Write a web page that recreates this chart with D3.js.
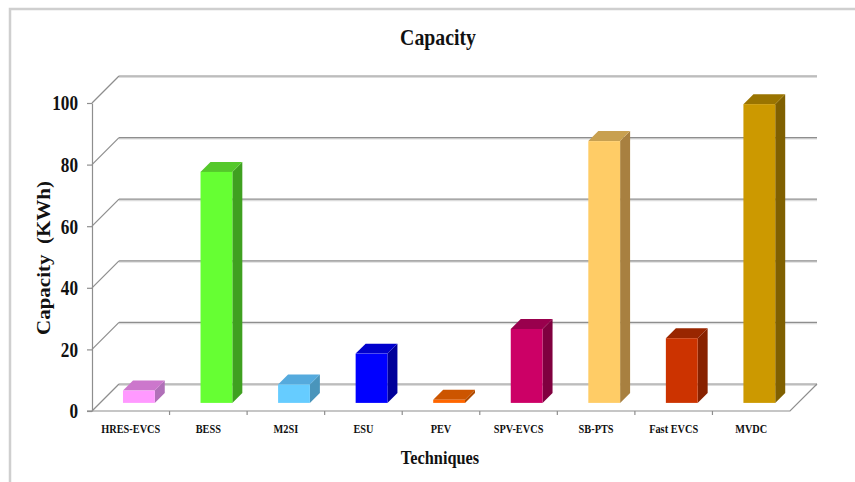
<!DOCTYPE html>
<html>
<head>
<meta charset="utf-8">
<script src="https://cdn.jsdelivr.net/npm/d3@7/dist/d3.min.js"></script>
<style>
  html, body { margin: 0; padding: 0; background: #fff; }
  svg { display: block; }
  text { font-family: "Liberation Serif", "Times New Roman", serif; font-weight: bold; fill: #111; }
</style>
</head>
<body>
<svg id="chart" width="855" height="482"></svg>
<script>
// Capacity of each technique (kWh)
const categories = ["HRES-EVCS", "BESS", "M2SI", "ESU", "PEV", "SPV-EVCS", "SB-PTS", "Fast EVCS", "MVDC"];
const capacity = [4, 75, 6, 16, 1, 24, 85, 21, 97];
const yTicks = [0, 20, 40, 60, 80, 100];

// Face colours per bar: front, top, side
const frontColors = ["#ff99ff", "#66ff33", "#66ccff", "#0000ff", "#ff6600", "#cc0066", "#ffcc66", "#cc3300", "#cc9900"];
const topColors   = ["#cc77cc", "#55c82b", "#55aadd", "#0000cc", "#cc5500", "#99004d", "#c8a050", "#992600", "#9a7400"];
const sideColors  = ["#b070b8", "#3fa020", "#4a95bb", "#00009a", "#b04a00", "#80003f", "#a88040", "#882200", "#806000"];

const svg = d3.select("#chart");
const SQ = 0.86; // horizontal condensing of the serif labels

// Front plane of the 3D box
const x = d3.scaleBand().domain(categories).range([92, 790]).paddingInner(0).paddingOuter(0);
const y = d3.scaleLinear().domain([0, 100]).range([411, 103]);
const DX = 27, DY = 27;              // depth offset of the back wall
const proj = (px, v, z) => [px + DX * z, y(v) - DY * z];

// Outer frame (left and top edges)
svg.append("path")
  .attr("d", "M10,482 L10,9 L855,9")
  .attr("fill", "none").attr("stroke", "#cfcfcf").attr("stroke-width", 2.5);

const grid = svg.append("g");
const [x0, x1] = x.range();

// Back wall gridlines and side-wall diagonals
yTicks.forEach(v => {
  const b0 = proj(x0, v, 1), b1 = proj(x1, v, 1), f0 = proj(x0, v, 0);
  grid.append("line")
    .attr("x1", b0[0]).attr("y1", b0[1] + 1.2).attr("x2", b1[0]).attr("y2", b1[1] + 1.2)
    .attr("stroke", "#dcdcdc").attr("stroke-width", 1.5);
  grid.append("line")
    .attr("x1", b0[0]).attr("y1", b0[1]).attr("x2", b1[0]).attr("y2", b1[1])
    .attr("stroke", "#8e8e8e").attr("stroke-width", 1.2);
  grid.append("line")
    .attr("x1", f0[0]).attr("y1", f0[1]).attr("x2", b0[0]).attr("y2", b0[1])
    .attr("stroke", "#8e8e8e").attr("stroke-width", 1.2);
});

// Floor: front edge and right diagonal
{
  const f0 = proj(x0, 0, 0), f1 = proj(x1, 0, 0), b1 = proj(x1, 0, 1);
  grid.append("path")
    .attr("d", `M${f0[0]},${f0[1]} L${f1[0]},${f1[1]} L${b1[0]},${b1[1]}`)
    .attr("fill", "none").attr("stroke", "#8e8e8e").attr("stroke-width", 1.2);
}

// Y axis on the front plane
const yAxis = svg.append("g")
  .attr("transform", `translate(${x0},0)`)
  .call(d3.axisLeft(y).tickValues(yTicks).tickSize(5).tickPadding(0).tickSizeOuter(0));
yAxis.select(".domain").attr("stroke", "#8e8e8e").attr("stroke-width", 1.2);
yAxis.selectAll(".tick line").attr("stroke", "#8e8e8e").attr("stroke-width", 1.2);
yAxis.selectAll(".tick text")
  .attr("x", 0).attr("dy", "0.34em")
  .attr("transform", `translate(-14,0) scale(${SQ},1)`)
  .style("font-family", "'Liberation Serif', serif").style("font-weight", "bold")
  .style("font-size", "20px").attr("fill", "#111");

// X axis ticks and category labels
const xAxis = svg.append("g")
  .attr("transform", `translate(0,${y(0)})`)
  .call(d3.axisBottom(x).tickSize(0).tickPadding(0).tickSizeOuter(0));
xAxis.select(".domain").remove();
xAxis.selectAll(".tick text").remove();
categories.forEach((c, i) => {
  if (i > 0) {
    xAxis.append("line")
      .attr("x1", x(c)).attr("x2", x(c)).attr("y1", 0).attr("y2", 4)
      .attr("stroke", "#8e8e8e").attr("stroke-width", 1.2);
  }
});
xAxis.append("line").attr("x1", x0 - 5).attr("x2", x0).attr("y1", 0).attr("y2", 0)
  .attr("stroke", "#8e8e8e").attr("stroke-width", 1.2);

svg.append("g").selectAll("text")
  .data(categories).join("text")
  .attr("transform", d => `translate(${x(d) + x.bandwidth() / 2},433) scale(${SQ},1)`)
  .attr("text-anchor", "middle")
  .style("font-size", "12px")
  .text(d => d);

// 3D bars
const zA = 0.3, zB = 0.67;
const barW = x.bandwidth() * 0.41;
const bars = svg.append("g");
categories.forEach((c, i) => {
  const v = capacity[i];
  const cx = x(c) + x.bandwidth() / 2;
  const l = cx - barW / 2, r = cx + barW / 2;
  const fTL = proj(l, v, zA), fTR = proj(r, v, zA), fBR = proj(r, 0, zA), fBL = proj(l, 0, zA);
  const bTL = proj(l, v, zB), bTR = proj(r, v, zB), bBR = proj(r, 0, zB);
  const g = bars.append("g");
  g.append("polygon")
    .attr("points", [fTR, bTR, bBR, fBR].map(p => p.join(",")).join(" "))
    .attr("fill", sideColors[i]);
  g.append("polygon")
    .attr("points", [fTL, fTR, bTR, bTL].map(p => p.join(",")).join(" "))
    .attr("fill", topColors[i]);
  g.append("rect")
    .attr("x", fTL[0]).attr("y", fTL[1])
    .attr("width", fTR[0] - fTL[0]).attr("height", Math.max(0, fBL[1] - fTL[1]))
    .attr("fill", frontColors[i]);
});

// Titles
svg.append("text")
  .attr("transform", `translate(438,45) scale(${SQ},1)`)
  .attr("text-anchor", "middle").style("font-size", "23px")
  .text("Capacity");

svg.append("text")
  .attr("transform", `translate(440,464) scale(${SQ},1)`)
  .attr("text-anchor", "middle").style("font-size", "19px")
  .text("Techniques");

svg.append("text")
  .attr("transform", `translate(50,258) scale(${SQ},1) rotate(-90)`)
  .attr("text-anchor", "middle").style("font-size", "21px")
  .style("white-space", "pre").attr("xml:space", "preserve")
  .text("Capacity  (KWh)");
</script>
</body>
</html>
